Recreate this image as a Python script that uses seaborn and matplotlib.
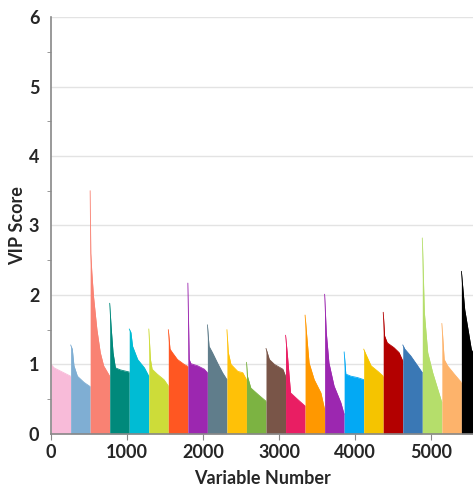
import matplotlib
matplotlib.use("Agg")
import matplotlib.pyplot as plt
import seaborn as sns
import pandas as pd
import numpy as np
from matplotlib.ticker import MultipleLocator

# variables per block (each block is sorted by VIP score, highest first)
block_size = 257

block_colors = ['#F8BBD9', '#7FAED3', '#F98273', '#00897B', '#00BCD4', '#CDDC39',
                '#FF5722', '#9C27B0', '#607D8B', '#FFC107', '#7CB342', '#795548',
                '#E91E63', '#FF9800', '#9C27B0', '#03A9F4', '#F5C400', '#B30000',
                '#3A78B5', '#B5DE6B', '#FDB36B', '#000000']

# rank within block / VIP score
block_ranks = [
    [0, 40, 130, 257],
    [0, 22, 44, 89, 177, 257],
    [0, 8, 22, 44, 89, 133, 177, 257],
    [0, 18, 44, 75, 142, 257],
    [0, 22, 44, 111, 200, 257],
    [0, 22, 44, 111, 200, 257],
    [0, 22, 53, 120, 208, 257],
    [0, 18, 40, 128, 217, 257],
    [0, 22, 66, 133, 199, 257],
    [0, 18, 53, 142, 208, 257],
    [0, 13, 57, 170, 257],
    [0, 44, 111, 222, 257],
    [0, 22, 66, 155, 257],
    [0, 18, 53, 120, 208, 257],
    [0, 22, 57, 124, 213, 257],
    [0, 22, 89, 177, 257],
    [0, 31, 97, 186, 257],
    [0, 18, 53, 142, 208, 257],
    [0, 27, 106, 195, 257],
    [0, 27, 71, 137, 204, 257],
    [0, 31, 75, 164, 257],
    [0, 44, 88, 132, 160, 257],
]
block_vip = [
    [1.00, 0.95, 0.90, 0.83],
    [1.28, 1.22, 0.98, 0.83, 0.74, 0.68],
    [3.50, 2.60, 2.32, 1.98, 1.50, 1.17, 0.98, 0.83],
    [1.88, 1.55, 1.17, 0.95, 0.92, 0.89],
    [1.51, 1.46, 1.26, 1.07, 0.95, 0.83],
    [1.51, 1.07, 0.93, 0.86, 0.78, 0.69],
    [1.50, 1.22, 1.17, 1.07, 1.00, 0.97],
    [2.17, 1.07, 1.01, 0.98, 0.93, 0.88],
    [1.57, 1.26, 1.17, 1.02, 0.88, 0.78],
    [1.50, 1.17, 1.00, 0.90, 0.88, 0.78],
    [1.03, 0.83, 0.66, 0.55, 0.47],
    [1.23, 1.07, 1.00, 0.93, 0.83],
    [1.42, 1.17, 0.59, 0.50, 0.40],
    [1.71, 1.46, 1.02, 0.78, 0.59, 0.35],
    [2.01, 1.46, 1.02, 0.69, 0.45, 0.28],
    [1.18, 0.86, 0.83, 0.81, 0.78],
    [1.22, 1.14, 0.98, 0.90, 0.83],
    [1.75, 1.41, 1.31, 1.24, 1.17, 1.05],
    [1.28, 1.22, 1.12, 0.98, 0.88],
    [2.82, 1.75, 1.17, 0.88, 0.64, 0.45],
    [1.59, 1.07, 0.98, 0.86, 0.74],
    [2.34, 1.79, 1.50, 1.21, 1.16, 1.00],
]

rows = []
for b, (ranks, vips) in enumerate(zip(block_ranks, block_vip)):
    for r, v in zip(ranks, vips):
        rows.append({'block': b, 'var': b * block_size + r, 'vip': v})
df = pd.DataFrame(rows)

sns.set_style("whitegrid")
plt.rcParams['font.family'] = ['Lato', 'DejaVu Sans']

fig = plt.figure(figsize=(4.73, 4.88), dpi=100)
ax = fig.add_axes([0.108, 0.111, 0.892, 0.854])

sns.lineplot(data=df, x='var', y='vip', hue='block', palette=block_colors,
             legend=False, linewidth=0.6, ax=ax, estimator=None, sort=False)
for b, g in df.groupby('block'):
    ax.fill_between(g['var'], 0, g['vip'], color=block_colors[b], linewidth=0)

ax.set_xlim(0, 5550)
ax.set_ylim(0, 6)
ax.xaxis.set_major_locator(MultipleLocator(1000))
ax.yaxis.set_major_locator(MultipleLocator(1))
ax.yaxis.set_minor_locator(MultipleLocator(0.5))
ax.grid(axis='x', visible=False)
ax.grid(axis='y', which='major', color='#e3e3e3', linewidth=1)
ax.tick_params(axis='y', which='major', length=5, color='#888888', labelsize=13)
ax.tick_params(axis='y', which='minor', length=3, color='#888888', left=True)
ax.tick_params(axis='x', which='major', length=4, color='#888888', labelsize=13, bottom=True)
for lab in ax.get_xticklabels() + ax.get_yticklabels():
    lab.set_fontweight('bold')

for s in ['top', 'right']:
    ax.spines[s].set_visible(False)
for s in ['left', 'bottom']:
    ax.spines[s].set_color('#888888')
    ax.spines[s].set_linewidth(1.2)

ax.set_xlabel('Variable Number', fontweight='bold', fontsize=13, labelpad=6)
ax.set_ylabel('VIP Score', fontweight='bold', fontsize=13, labelpad=2)

plt.savefig('out.png', dpi=100)
